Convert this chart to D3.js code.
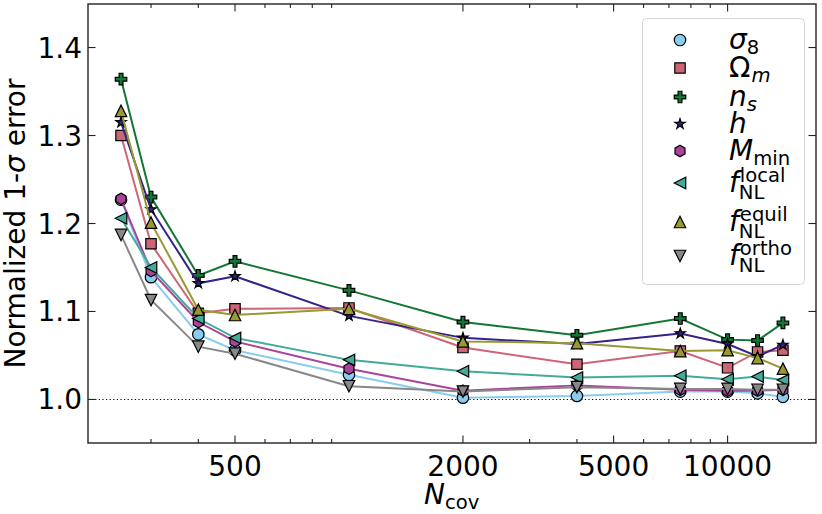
<!DOCTYPE html>
<html>
<head>
<meta charset="utf-8">
<script src="https://cdn.jsdelivr.net/npm/d3@7"></script>
<style>
  body { margin: 0; background: #fff; }
  text { font-family: "DejaVu Sans", sans-serif; fill: #000; }
</style>
</head>
<body>
<div id="chart"></div>
<script>
// number of mocks used for the covariance
var nCov = [250, 300, 400, 500, 1000, 2000, 4000, 7500, 10000, 12000, 14000];

// normalized 1-sigma error, one array per parameter
var sigma8 = [1.227, 1.139, 1.074, 1.056, 1.028, 1.002, 1.004, 1.009, 1.009, 1.007, 1.003];
var omegaM = [1.300, 1.177, 1.098, 1.103, 1.104, 1.059, 1.040, 1.055, 1.036, 1.054, 1.056];
var nS     = [1.364, 1.230, 1.141, 1.157, 1.124, 1.088, 1.073, 1.092, 1.068, 1.067, 1.087];
var hubble = [1.315, 1.216, 1.132, 1.140, 1.095, 1.070, 1.063, 1.075, 1.063, 1.049, 1.062];
var mMin   = [1.228, 1.146, 1.088, 1.066, 1.035, 1.010, 1.016, 1.011, 1.010, 1.010, 1.011];
var fLocal = [1.206, 1.150, 1.092, 1.070, 1.045, 1.032, 1.025, 1.027, 1.023, 1.026, 1.022];
var fEquil = [1.328, 1.201, 1.102, 1.096, 1.103, 1.066, 1.064, 1.055, 1.056, 1.047, 1.035];
var fOrtho = [1.187, 1.113, 1.060, 1.052, 1.015, 1.009, 1.014, 1.012, 1.012, 1.011, 1.011];

var xMajorTicks = [500, 2000, 5000, 10000];
var xMinorTicks = [300, 400, 600, 700, 800, 900, 3000, 4000, 6000, 7000, 8000, 9000];
var yTicks = [1.0, 1.1, 1.2, 1.3, 1.4];

// label parts: base, base italic?, subscript, sub italic?, superscript
var series = [
  {values: sigma8, color: "#88CCEE", marker: "circle",   label: {base: "σ", it: true,  sub: "8",   subIt: false}},
  {values: omegaM, color: "#CC6677", marker: "square",   label: {base: "Ω", it: false, sub: "m",   subIt: true}},
  {values: nS,     color: "#117733", marker: "plus",     label: {base: "n", it: true,  sub: "s",   subIt: true}},
  {values: hubble, color: "#332288", marker: "star",     label: {base: "h", it: true}},
  {values: mMin,   color: "#AA4499", marker: "hexagon",  label: {base: "M", it: true,  sub: "min", subIt: false}},
  {values: fLocal, color: "#44AA99", marker: "triLeft",  label: {base: "f", it: true,  sub: "NL",  subIt: false, sup: "local"}},
  {values: fEquil, color: "#999933", marker: "triUp",    label: {base: "f", it: true,  sub: "NL",  subIt: false, sup: "equil"}},
  {values: fOrtho, color: "#888888", marker: "triDown",  label: {base: "f", it: true,  sub: "NL",  subIt: false, sup: "ortho"}}
];

var svgWidth = 822;
var svgHeight = 514;
var margin = {top: 4, right: 6, bottom: 71, left: 88};
var width = svgWidth - margin.left - margin.right;
var height = svgHeight - margin.top - margin.bottom;

var svg = d3.select("#chart")
  .append("svg")
  .attr("width", svgWidth)
  .attr("height", svgHeight);

var chartGroup = svg.append("g")
  .attr("transform", `translate(${margin.left}, ${margin.top})`);

var xScale = d3.scaleLog()
  .domain([204.5, 17120])
  .range([0, width]);

var yScale = d3.scaleLinear()
  .domain([0.9505, 1.4495])
  .range([height, 0]);

// marker shapes, matplotlib style
var ms = 11.5;
function markerPath(kind) {
  var h = ms / 2;
  var pts;
  if (kind === "circle") {
    return `M${h},0A${h},${h} 0 1,1 ${-h},0A${h},${h} 0 1,1 ${h},0Z`;
  } else if (kind === "square") {
    var s = 5.2;
    pts = [[-s, -s], [s, -s], [s, s], [-s, s]];
  } else if (kind === "plus") {
    var a = ms / 6;
    pts = [[-1, -3], [1, -3], [1, -1], [3, -1], [3, 1], [1, 1], [1, 3], [-1, 3], [-1, 1], [-3, 1], [-3, -1], [-1, -1]]
      .map(p => [p[0] * a, p[1] * a]);
  } else if (kind === "star") {
    var R = 5.4, r = R * 0.381966;
    pts = d3.range(10).map(function(i) {
      var ang = -Math.PI / 2 + i * Math.PI / 5;
      var rr = i % 2 === 0 ? R : r;
      return [rr * Math.cos(ang), rr * Math.sin(ang)];
    });
  } else if (kind === "hexagon") {
    pts = d3.range(6).map(function(i) {
      var ang = -Math.PI / 2 + i * Math.PI / 3;
      return [h * Math.cos(ang), h * Math.sin(ang)];
    });
  } else if (kind === "triUp") {
    pts = [[0, -h], [-h, h], [h, h]];
  } else if (kind === "triDown") {
    pts = [[0, h], [-h, -h], [h, -h]];
  } else if (kind === "triLeft") {
    pts = [[-h, 0], [h, -h], [h, h]];
  }
  return "M" + pts.map(p => p.join(",")).join("L") + "Z";
}

// reference line at 1
chartGroup.append("line")
  .attr("x1", 0)
  .attr("x2", width)
  .attr("y1", yScale(1))
  .attr("y2", yScale(1))
  .attr("stroke", "#000")
  .attr("stroke-width", 1.1)
  .attr("stroke-dasharray", "1.2,2.4");

var line = d3.line()
  .x((d, i) => xScale(nCov[i]))
  .y(d => yScale(d));

// draw each series: line then markers, so later series sit on top
series.forEach(function(s) {
  var g = chartGroup.append("g");
  g.append("path")
    .attr("d", line(s.values))
    .attr("fill", "none")
    .attr("stroke", s.color)
    .attr("stroke-width", 2);
  g.selectAll("path.marker")
    .data(s.values)
    .enter()
    .append("path")
    .attr("class", "marker")
    .attr("d", markerPath(s.marker))
    .attr("transform", (d, i) => `translate(${xScale(nCov[i])}, ${yScale(d)})`)
    .attr("fill", s.color)
    .attr("stroke", "#000")
    .attr("stroke-width", 1.2);
});

// frame with inward ticks on all four sides
var axisColor = "#222";
var majorLen = 7.5, minorLen = 4;

var ticks = chartGroup.append("g")
  .attr("stroke", axisColor)
  .attr("stroke-width", 1.1);

xMajorTicks.forEach(function(t) {
  var x = xScale(t);
  ticks.append("line").attr("x1", x).attr("x2", x).attr("y1", height).attr("y2", height - majorLen);
  ticks.append("line").attr("x1", x).attr("x2", x).attr("y1", 0).attr("y2", majorLen);
});
xMinorTicks.forEach(function(t) {
  var x = xScale(t);
  ticks.append("line").attr("x1", x).attr("x2", x).attr("y1", height).attr("y2", height - minorLen);
  ticks.append("line").attr("x1", x).attr("x2", x).attr("y1", 0).attr("y2", minorLen);
});
yTicks.forEach(function(t) {
  var y = yScale(t);
  ticks.append("line").attr("x1", 0).attr("x2", majorLen).attr("y1", y).attr("y2", y);
  ticks.append("line").attr("x1", width).attr("x2", width - majorLen).attr("y1", y).attr("y2", y);
});

chartGroup.append("rect")
  .attr("x", 0)
  .attr("y", 0)
  .attr("width", width)
  .attr("height", height)
  .attr("fill", "none")
  .attr("stroke", axisColor)
  .attr("stroke-width", 1.4);

// tick labels
chartGroup.selectAll(".xtick")
  .data(xMajorTicks)
  .enter()
  .append("text")
  .attr("class", "xtick")
  .attr("x", d => xScale(d))
  .attr("y", height + 33)
  .attr("text-anchor", "middle")
  .attr("font-size", 28)
  .text(d => d);

chartGroup.selectAll(".ytick")
  .data(yTicks)
  .enter()
  .append("text")
  .attr("class", "ytick")
  .attr("x", -6)
  .attr("y", d => yScale(d) + 10)
  .attr("text-anchor", "end")
  .attr("font-size", 28)
  .text(d => d.toFixed(1));

// axis titles
var yLabel = svg.append("text")
  .attr("transform", `translate(25, ${margin.top + height / 2}) rotate(-90)`)
  .attr("text-anchor", "middle")
  .attr("font-size", 28);
yLabel.append("tspan").text("Normalized 1-");
yLabel.append("tspan").attr("font-style", "italic").text("σ");
yLabel.append("tspan").text(" error");

var xLabel = svg.append("text")
  .attr("x", margin.left + width / 2 - 28)
  .attr("y", 504)
  .attr("font-size", 28);
xLabel.append("tspan").attr("font-style", "italic").text("N");
xLabel.append("tspan").attr("font-size", 19.6).attr("dy", 5).text("cov");

// legend
var legend = svg.append("g");
legend.append("rect")
  .attr("x", 642.5)
  .attr("y", 18.5)
  .attr("width", 162)
  .attr("height", 266)
  .attr("rx", 4)
  .attr("fill", "#fff")
  .attr("fill-opacity", 0.8)
  .attr("stroke", "#d6d6d6")
  .attr("stroke-width", 1);

var rowY = [40, 68, 97, 124, 151, 183, 222, 256];
var markerX = 680, textX = 729;

series.forEach(function(s, i) {
  var cy = rowY[i];
  legend.append("path")
    .attr("d", markerPath(s.marker))
    .attr("transform", `translate(${markerX}, ${cy})`)
    .attr("fill", s.color)
    .attr("stroke", "#000")
    .attr("stroke-width", 1.2);

  // one text element per label, scripts placed with tspans
  var lab = s.label;
  var baseY = cy + 9;
  var txt = legend.append("text")
    .attr("x", textX)
    .attr("y", baseY)
    .attr("font-size", 28);
  var base = txt.append("tspan")
    .attr("font-style", lab.it ? "italic" : "normal")
    .text(lab.base);
  var bw = base.node().getComputedTextLength();
  if (lab.sup) {
    txt.append("tspan")
      .attr("x", textX + bw + 1)
      .attr("y", baseY - 10)
      .attr("font-size", 19.6)
      .text(lab.sup);
  }
  if (lab.sub) {
    txt.append("tspan")
      .attr("x", textX + bw + (lab.it ? 0 : 1))
      .attr("y", baseY + (lab.sup ? 7 : 5))
      .attr("font-size", 19.6)
      .attr("font-style", lab.subIt ? "italic" : "normal")
      .text(lab.sub);
  }
});
</script>
</body>
</html>
